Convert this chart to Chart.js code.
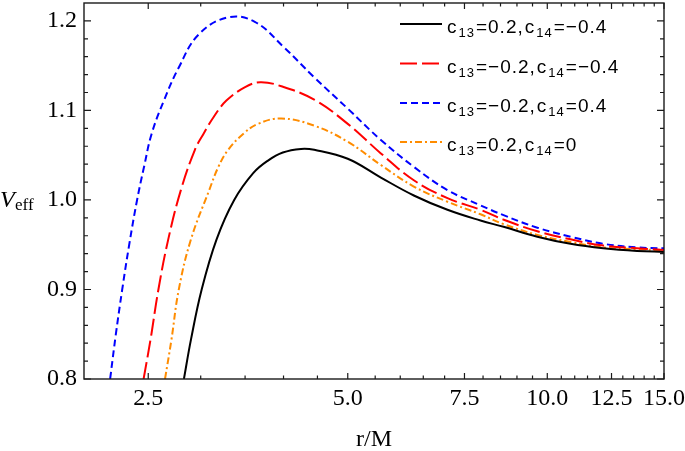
<!DOCTYPE html>
<html><head><meta charset="utf-8">
<script src="https://cdn.jsdelivr.net/npm/chart.js@4/dist/chart.umd.min.js"></script>
<style>html,body{margin:0;padding:0;background:#fff}#wrap{width:685px;height:451px;position:relative}</style>
</head><body><div id="wrap"><canvas id="c" width="685" height="451"></canvas></div>
<script>
// ---- data ----
const rBlack = [2.83, 2.90, 3.01, 3.17, 3.37, 3.60, 3.79, 3.99, 4.25, 4.45, 5.0, 5.61, 6.29, 7.07, 7.93, 8.59, 9.66, 10.84, 12.15, 13.66, 15];
const vBlack = [0.8, 0.844, 0.9, 0.956, 1.0, 1.030, 1.044, 1.053, 1.057, 1.056, 1.046, 1.025, 1.005, 0.989, 0.977, 0.970, 0.959, 0.951, 0.946, 0.943, 0.942];

const rRed = [2.46, 2.52, 2.59, 2.68, 2.80, 2.94, 3.03, 3.14, 3.28, 3.50, 3.69, 3.97, 4.45, 5.0, 5.61, 6.29, 7.07, 7.93, 8.59, 9.66, 10.84, 12.15, 13.66, 15];
const vRed = [0.8, 0.844, 0.9, 0.956, 1.011, 1.056, 1.074, 1.093, 1.111, 1.126, 1.1315, 1.127, 1.112, 1.085, 1.052, 1.022, 1.002, 0.989, 0.978, 0.965, 0.956, 0.949, 0.946, 0.944];

const rBlue = [2.19, 2.234, 2.284, 2.340, 2.405, 2.464, 2.53, 2.64, 2.78, 2.98, 3.30, 3.62, 4.0, 4.45, 5.0, 5.61, 6.29, 7.07, 7.93, 8.59, 9.66, 10.84, 12.15, 13.66, 15];
const vBlue = [0.8, 0.85, 0.9, 0.95, 1.0, 1.037, 1.074, 1.111, 1.148, 1.185, 1.204, 1.199, 1.171, 1.137, 1.102, 1.067, 1.037, 1.011, 0.994, 0.983, 0.969, 0.959, 0.951, 0.947, 0.946];

const rOrange = [2.65, 2.71, 2.78, 2.90, 3.09, 3.19, 3.30, 3.48, 3.66, 3.97, 4.45, 5.0, 5.61, 6.29, 7.07, 7.93, 8.59, 9.66, 10.84, 12.15, 13.66, 15];
const vOrange = [0.8, 0.844, 0.9, 0.956, 1.011, 1.037, 1.056, 1.074, 1.085, 1.091, 1.083, 1.065, 1.039, 1.015, 0.998, 0.984, 0.973, 0.961, 0.953, 0.947, 0.945, 0.944];

const c13Values = ['0.2', '\u22120.2', '\u22120.2', '0.2'];
const c14Values = ['\u22120.4', '\u22120.4', '0.4', '0'];

const xTickValues = [2.5, 3, 3.5, 4, 4.5, 5, 5.5, 6, 6.5, 7, 7.5, 8, 8.5, 9, 9.5, 10, 10.5, 11, 11.5, 12, 12.5, 13, 13.5, 14, 14.5, 15];
const xMajorTicks = [2.5, 5, 7.5, 10, 12.5, 15];
const yTickValues = [0.8, 0.82, 0.84, 0.86, 0.88, 0.9, 0.92, 0.94, 0.96, 0.98, 1.0, 1.02, 1.04, 1.06, 1.08, 1.1, 1.12, 1.14, 1.16, 1.18, 1.2];
const yMajorTicks = [0.8, 0.9, 1.0, 1.1, 1.2];

// ---- helpers ----
const pts = (xs, ys) => xs.map((x, i) => ({x: x, y: ys[i]}));
const isMajor = (list, v) => list.some(m => Math.abs(m - v) < 1e-9);
const serif = '"Liberation Serif", "Times New Roman", serif';
const sans = '"Liberation Sans", Arial, sans-serif';

const seriesStyles = [
  {color: '#000000', dash: []},
  {color: '#ff0000', dash: [17, 5]},
  {color: '#0000ff', dash: [7, 4]},
  {color: '#ff8c00', dash: [7, 3, 2, 3]}
];
const seriesData = [pts(rBlack, vBlack), pts(rRed, vRed), pts(rBlue, vBlue), pts(rOrange, vOrange)];

const framePlugin = {
  id: 'frameTicks',
  afterDatasetsDraw(chart) {
    const ctx = chart.ctx, a = chart.chartArea;
    const xs = chart.scales.x, ys = chart.scales.y;
    ctx.save();
    ctx.strokeStyle = '#1a1a1a';
    ctx.lineWidth = 1.4;
    ctx.setLineDash([]);
    ctx.strokeRect(a.left, a.top, a.right - a.left, a.bottom - a.top);
    ctx.lineWidth = 1.2;
    ctx.beginPath();
    xTickValues.forEach(v => {
      const px = xs.getPixelForValue(v);
      const len = isMajor(xMajorTicks, v) ? 6 : 3.5;
      ctx.moveTo(px, a.bottom); ctx.lineTo(px, a.bottom - len);
      ctx.moveTo(px, a.top); ctx.lineTo(px, a.top + len);
    });
    yTickValues.forEach(v => {
      const py = ys.getPixelForValue(v);
      const len = isMajor(yMajorTicks, v) ? 7 : 4;
      ctx.moveTo(a.left, py); ctx.lineTo(a.left + len, py);
      ctx.moveTo(a.right, py); ctx.lineTo(a.right - len, py);
    });
    ctx.stroke();

    // y-axis title V_eff
    ctx.fillStyle = '#000';
    ctx.textBaseline = 'alphabetic';
    ctx.textAlign = 'left';
    ctx.font = 'italic 24px ' + serif;
    ctx.fillText('V', 0, 207);
    ctx.font = '17px ' + serif;
    ctx.fillText('eff', 15, 210);

    // legend
    const x0 = 400, x1 = 442, tx = 447;
    const rowY = [24, 63.5, 103, 142];
    chart.data.datasets.forEach((ds, i) => {
      const y = rowY[i];
      ctx.strokeStyle = ds.borderColor;
      ctx.lineWidth = 2.2;
      ctx.setLineDash(ds.borderDash || []);
      ctx.beginPath(); ctx.moveTo(x0, y); ctx.lineTo(x1, y); ctx.stroke();
      ctx.setLineDash([]);
      const segs = [
        {t: 'c', s: false}, {t: '13', s: true}, {t: '=' + c13Values[i] + ',', s: false},
        {t: 'c', s: false}, {t: '14', s: true}, {t: '=' + c14Values[i], s: false}
      ];
      let x = tx;
      const base = y + 9;
      ctx.fillStyle = '#000';
      segs.forEach(sg => {
        ctx.font = (sg.s ? '13px ' : '19px ') + sans;
        ctx.letterSpacing = '1px';
        ctx.fillText(sg.t, x, sg.s ? base + 4 : base);
        x += ctx.measureText(sg.t).width + 1;
      });
      ctx.letterSpacing = '0px';
    });
    ctx.restore();
  }
};

new Chart(document.getElementById('c'), {
  type: 'scatter',
  data: {
    datasets: seriesData.map((d, i) => ({
      data: d,
      showLine: true,
      borderColor: seriesStyles[i].color,
      backgroundColor: seriesStyles[i].color,
      borderDash: seriesStyles[i].dash,
      borderWidth: 2,
      pointRadius: 0,
      tension: 0.4,
      fill: false
    }))
  },
  options: {
    responsive: false,
    animation: false,
    devicePixelRatio: 1,
    layout: {padding: {top: 3, right: 21, left: 0, bottom: 0}},
    plugins: {legend: {display: false}, tooltip: {enabled: false}},
    scales: {
      x: {
        type: 'logarithmic',
        min: 2, max: 15,
        afterBuildTicks: s => { s.ticks = xTickValues.map(v => ({value: v, major: isMajor(xMajorTicks, v)})); },
        afterFit: s => { s.height = 72; s.paddingLeft = 0; s.paddingRight = 0; },
        ticks: {
          autoSkip: false, maxRotation: 0, padding: 5,
          color: '#000', font: {family: serif, size: 24},
          callback: v => isMajor(xMajorTicks, v) ? v.toFixed(1) : ''
        },
        grid: {display: false, drawTicks: false},
        border: {display: false},
        title: {display: true, text: 'r/M', color: '#000', font: {family: serif, size: 24, lineHeight: 1}, padding: {top: 0, bottom: -1}}
      },
      y: {
        type: 'linear',
        min: 0.8, max: 1.22,
        afterBuildTicks: s => { s.ticks = yTickValues.map(v => ({value: v})); },
        afterFit: s => { s.width = 84; s.paddingTop = 0; s.paddingBottom = 0; },
        ticks: {
          autoSkip: false, padding: 7,
          color: '#000', font: {family: serif, size: 24},
          callback: v => isMajor(yMajorTicks, v) ? v.toFixed(1) : ''
        },
        grid: {display: false, drawTicks: false},
        border: {display: false}
      }
    }
  },
  plugins: [framePlugin]
});
</script>
</body></html>
